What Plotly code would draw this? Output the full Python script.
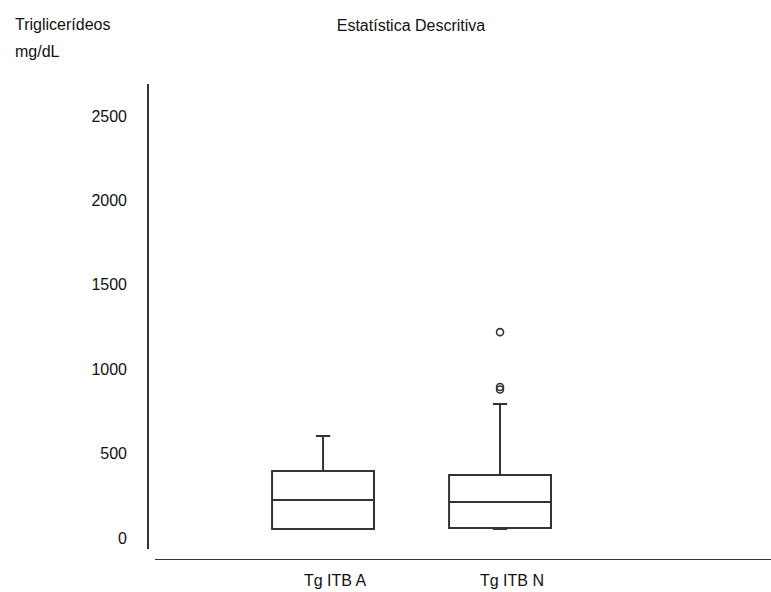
import plotly.graph_objects as go

categories = ["Tg ITB A", "Tg ITB N"]
q1 = [53, 59]
median = [225, 213]
q3 = [397, 373]
lowerfence = [71, 53]
upperfence = [604, 794]
outlier_cat = [1, 1, 1]
outlier_vals = [1220, 895, 880]
y_ticks = [0, 500, 1000, 1500, 2000, 2500]

FONT = "Liberation Sans, Arial, sans-serif"
LINE = "#333333"

fig = go.Figure()
for i, cat in enumerate(categories):
    fig.add_trace(go.Box(
        x=[i], q1=[q1[i]], median=[median[i]], q3=[q3[i]],
        lowerfence=[lowerfence[i]], upperfence=[upperfence[i]],
        name=cat, width=0.576, whiskerwidth=0.14,
        fillcolor="rgba(0,0,0,0)",
        line=dict(color=LINE, width=2),
        boxpoints=False, showlegend=False,
    ))

fig.add_trace(go.Scatter(
    x=outlier_cat, y=outlier_vals, mode="markers",
    marker=dict(symbol="circle-open", size=7, color=LINE, line=dict(width=1.6)),
    showlegend=False, hoverinfo="y",
))

for i, cat in enumerate(categories):
    fig.add_annotation(x=i, y=-130, xref="x", yref="y", text=cat, showarrow=False,
                       xanchor="center", yanchor="top", xshift=12, yshift=-10,
                       font=dict(family=FONT, size=16, color="#111"))

fig.add_annotation(x=-0.2167, y=1.124, xref="paper", yref="paper", text="Triglicerídeos",
                   showarrow=False, xanchor="left", yanchor="middle",
                   font=dict(family=FONT, size=16, color="#111"))
fig.add_annotation(x=-0.2167, y=1.069, xref="paper", yref="paper", text="mg/dL",
                   showarrow=False, xanchor="left", yanchor="middle",
                   font=dict(family=FONT, size=16, color="#111"))

# axis lines
fig.add_shape(type="line", xref="paper", yref="y", x0=0, x1=0, y0=-65, y1=2690,
              line=dict(color=LINE, width=2))
fig.add_shape(type="line", xref="paper", yref="y", x0=0.0112, x1=1, y0=-130, y1=-130,
              line=dict(color=LINE, width=2))

fig.update_layout(
    width=771, height=592,
    margin=dict(l=148, r=0, t=84, b=32),
    paper_bgcolor="white", plot_bgcolor="white",
    title=dict(text="Estatística Descritiva", x=411/771, xanchor="center",
               y=1 - 25/592, yanchor="middle", yref="container",
               font=dict(family=FONT, size=16, color="#111")),
    xaxis=dict(range=[-0.989, 2.531], showgrid=False, zeroline=False,
               showticklabels=False, showline=False, ticks=""),
    yaxis=dict(range=[-130, 2690], tickvals=y_ticks, showgrid=False, zeroline=False,
               showline=False, ticks="", ticklabelstandoff=20,
               tickfont=dict(family=FONT, size=16, color="#111")),
    font=dict(family=FONT),
)

fig.write_html("out.html",
               config={"displayModeBar": False},
               post_script="document.body.style.margin='0';document.body.style.overflow='hidden';")
